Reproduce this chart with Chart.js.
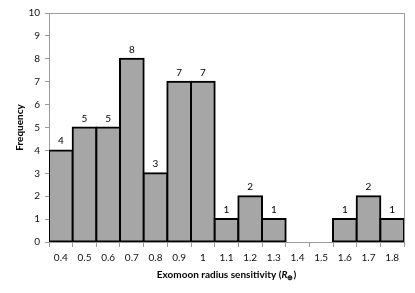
<!DOCTYPE html>
<html>
<head>
<meta charset="utf-8">
<script src="https://cdn.jsdelivr.net/npm/chart.js@4.4.1/dist/chart.umd.min.js"></script>
<style>
  html, body { margin: 0; padding: 0; background: #fff; }
  #wrap { width: 415px; height: 293px; position: relative; }
</style>
</head>
<body>
<div id="wrap"><canvas id="hist"></canvas></div>
<script>
// bin centres (radius, Earth radii) and counts
const binLabels = ['0.4', '0.5', '0.6', '0.7', '0.8', '0.9', '1', '1.1', '1.2', '1.3', '1.4', '1.5', '1.6', '1.7', '1.8'];
const frequencies = [4, 5, 5, 8, 3, 7, 7, 1, 2, 1, 0, 0, 1, 2, 1];
const yMin = 0;
const yMax = 10;
const yStep = 1;
const yTitle = 'Frequency';
const xTitle = ['Exomoon radius sensitivity (', 'R', '\u2295', ')'];

const FAMILY = 'Lato, "Liberation Sans", sans-serif';
const AXIS_GREY = '#9a9a9a';

// counts above each bar (zero bins left blank)
const valueLabels = {
  id: 'valueLabels',
  afterDatasetsDraw(chart) {
    const ctx = chart.ctx;
    const meta = chart.getDatasetMeta(0);
    ctx.save();
    ctx.font = '10px ' + FAMILY;
    ctx.fillStyle = '#000';
    ctx.textAlign = 'center';
    ctx.textBaseline = 'alphabetic';
    meta.data.forEach((bar, i) => {
      const v = frequencies[i];
      if (!v) return;
      ctx.fillText(String(v), bar.x, bar.y - 6);
    });
    ctx.restore();
  }
};

// top and right edge of the plot area
const plotFrame = {
  id: 'plotFrame',
  afterDraw(chart) {
    const { ctx, chartArea: a } = chart;
    ctx.save();
    ctx.strokeStyle = AXIS_GREY;
    ctx.lineWidth = 1;
    ctx.beginPath();
    ctx.moveTo(a.left - 4, a.top + 0.5);
    ctx.lineTo(a.right + 0.5, a.top + 0.5);
    ctx.lineTo(a.right + 0.5, a.bottom);
    ctx.stroke();
    ctx.restore();
  }
};

// x title with italic R and subscript earth symbol
const xAxisTitle = {
  id: 'xAxisTitle',
  afterDraw(chart) {
    const { ctx, chartArea: a } = chart;
    const main = 'bold 10px ' + FAMILY;
    const ital = 'italic bold 10px ' + FAMILY;
    const sub = 'bold 7px ' + FAMILY;
    ctx.save();
    ctx.fillStyle = '#000';
    ctx.textBaseline = 'alphabetic';
    ctx.textAlign = 'left';
    const parts = [
      { t: xTitle[0], f: main, dy: 0 },
      { t: xTitle[1], f: ital, dy: 0 },
      { t: xTitle[2], f: sub, dy: 2 },
      { t: xTitle[3], f: main, dy: 0 }
    ];
    let total = 0;
    parts.forEach(p => { ctx.font = p.f; p.w = ctx.measureText(p.t).width; total += p.w; });
    let x = (a.left + a.right) / 2 - total / 2;
    const y = 278;
    parts.forEach(p => {
      ctx.font = p.f;
      ctx.fillText(p.t, x, y + p.dy);
      x += p.w;
    });
    ctx.restore();
  }
};

new Chart(document.getElementById('hist'), {
  type: 'bar',
  data: {
    labels: binLabels,
    datasets: [{
      data: frequencies,
      backgroundColor: '#a6a6a6',
      borderColor: '#000',
      borderWidth: 2,
      borderSkipped: false,
      inflateAmount: 1,
      barPercentage: 1,
      categoryPercentage: 1
    }]
  },
  options: {
    responsive: true,
    maintainAspectRatio: false,
    animation: false,
    events: [],
    layout: { padding: { left: 0, top: 13, right: 11, bottom: 0 } },
    plugins: {
      legend: { display: false },
      tooltip: { enabled: false }
    },
    scales: {
      x: {
        grid: { offset: true, drawOnChartArea: false, color: AXIS_GREY, tickLength: 5 },
        border: { color: AXIS_GREY },
        ticks: { font: { size: 10, family: FAMILY }, color: '#111', padding: 5, maxRotation: 0, autoSkip: false },
        afterFit(s) { s.height = 51; }
      },
      y: {
        min: yMin,
        max: yMax,
        ticks: { stepSize: yStep, font: { size: 10, family: FAMILY }, color: '#111', padding: 5 },
        grid: { drawOnChartArea: false, color: AXIS_GREY, tickLength: 4 },
        border: { color: AXIS_GREY },
        title: {
          display: true,
          text: yTitle,
          color: '#000',
          font: { size: 10, weight: 'bold', family: FAMILY },
          padding: { top: 14, bottom: 0 }
        },
        afterFit(s) { s.width = 49; }
      }
    }
  },
  plugins: [valueLabels, plotFrame, xAxisTitle]
});
</script>
</body>
</html>
